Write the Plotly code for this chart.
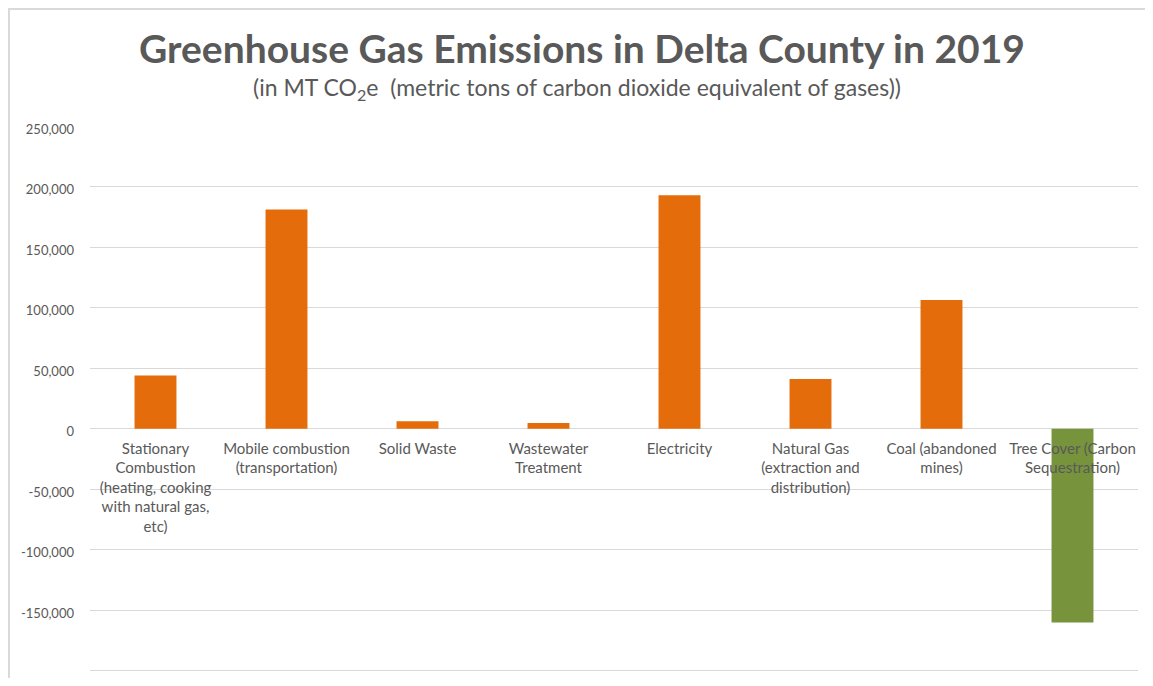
import plotly.graph_objects as go

categories = [
    "Stationary<br>Combustion<br>(heating, cooking<br>with natural gas,<br>etc)",
    "Mobile combustion<br>(transportation)",
    "Solid Waste",
    "Wastewater<br>Treatment",
    "Electricity",
    "Natural Gas<br>(extraction and<br>distribution)",
    "Coal (abandoned<br>mines)",
    "Tree Cover (Carbon<br>Sequestration)",
]
values = [44100, 181200, 6200, 4900, 193000, 41200, 106500, -160100]
bar_colors = ["#E46C0A"] * 7 + ["#77933C"]
y_ticks = [250000, 200000, 150000, 100000, 50000, 0, -50000, -100000, -150000, -200000]
y_tick_labels = ["250,000", "200,000", "150,000", "100,000", "50,000", "0",
                 "-50,000", "-100,000", "-150,000", "-200,000"]

title_text = "Greenhouse Gas Emissions in Delta County in 2019"
subtitle_text = "(in MT CO<sub>2</sub>e  (metric tons of carbon dioxide equivalent of gases))"

FONT = "Lato"
GREY = "#595959"

fig = go.Figure()
fig.add_trace(go.Bar(
    x=categories, y=values,
    marker=dict(color=bar_colors, line=dict(width=0)),
    width=0.32,
))

# page offset (body margin) compensation
OFF = 8
W, H = 1153 - OFF, 686 - 2 * OFF
L, R, T = 90 - OFF, 15, 126 - OFF
B = H - (673 - OFF)
pw, ph = W - L - R, H - T - B

def px(x):
    return (x - OFF - L) / pw

def py(y):
    return (H - B - (y - OFF)) / ph

Y_RANGE = [-201800, 250300]
zero_pos = (0 - Y_RANGE[0]) / (Y_RANGE[1] - Y_RANGE[0])

fig.update_layout(
    width=W, height=H,
    margin=dict(l=L, r=R, t=T, b=B),
    paper_bgcolor="white", plot_bgcolor="white",
    font=dict(family=FONT, color=GREY),
    showlegend=False,
    xaxis=dict(
        anchor="free", position=zero_pos,
        showgrid=False, showline=False, ticks="", zeroline=False,
        tickfont=dict(size=15, color=GREY, family=FONT),
        ticklabelstandoff=9,
        tickangle=0,
    ),
    yaxis=dict(
        range=Y_RANGE,
        tickvals=y_ticks,
        ticktext=y_tick_labels,
        showgrid=True, gridcolor="#D9D9D9", gridwidth=1,
        zeroline=False, showline=False, ticks="",
        tickfont=dict(size=13, color=GREY, family=FONT),
        ticklabelstandoff=15,
        ticklabelshift=3,
    ),
    annotations=[
        dict(text="<b>" + title_text + "</b>", xref="paper", yref="paper",
             x=px(581.5), y=py(48), xanchor="center", yanchor="middle",
             showarrow=False, font=dict(size=39, color=GREY, family=FONT)),
        dict(text=subtitle_text, xref="paper", yref="paper",
             x=px(576.5), y=py(88), xanchor="center", yanchor="middle",
             showarrow=False, font=dict(size=23, color=GREY, family=FONT)),
    ],
    shapes=[
        dict(type="rect", xref="paper", yref="paper",
             x0=px(9), x1=px(1170), y0=py(9), y1=py(720),
             line=dict(color="#D9D9D9", width=2), fillcolor="rgba(0,0,0,0)",
             layer="below"),
    ],
)

fig.write_html("out.html")
